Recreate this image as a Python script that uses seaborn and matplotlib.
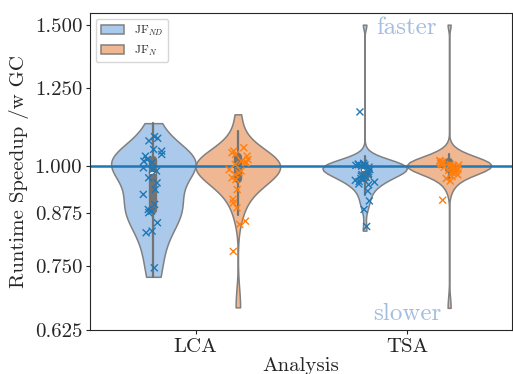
import numpy as np
import pandas as pd
import seaborn as sns
import matplotlib.pyplot as plt
from matplotlib.ticker import FixedLocator, FormatStrFormatter, NullLocator

# categorias e variantes
analyses = ["LCA", "TSA"]
variants = ["JF$_{ND}$", "JF$_{N}$"]
yticks = [0.625, 0.750, 0.875, 1.000, 1.250, 1.500]

# speedup por benchmark (as cruzes)
lca_nd_pts = [1.088, 1.083, 1.075, 1.049, 1.044, 1.034, 1.029, 1.019, 1.014, 1.010,
              0.995, 0.990, 0.986, 0.967, 0.953, 0.935, 0.922, 0.896, 0.883, 0.879,
              0.875, 0.850, 0.830, 0.826, 0.747]
lca_n_pts = [1.054, 1.044, 1.039, 1.034, 1.029, 1.019, 1.014, 1.010, 1.010, 1.005,
             0.990, 0.986, 0.981, 0.976, 0.967, 0.962, 0.935, 0.909, 0.900, 0.887,
             0.854, 0.846, 0.783]
tsa_nd_pts = [1.168, 1.008, 1.006, 1.004, 1.003, 1.002, 1.001, 1.000, 0.997, 0.990,
              0.984, 0.978, 0.976, 0.975, 0.972, 0.968, 0.965, 0.963, 0.960, 0.957,
              0.955, 0.950, 0.948, 0.931, 0.905, 0.883, 0.841]
tsa_n_pts = [1.016, 1.014, 1.012, 1.010, 1.008, 1.006, 1.005, 1.004, 1.003, 1.002,
             1.000, 0.999, 0.997, 0.995, 0.993, 0.990, 0.988, 0.986, 0.983, 0.981,
             0.975, 0.970, 0.965, 0.958, 0.907]

# todas as execucoes (os violinos)
lca_nd_runs = [0.728, 0.760, 0.810, 0.835, 0.855, 0.870, 0.878, 0.885, 0.892, 0.900,
               0.920, 0.945, 0.965, 0.980, 0.990, 0.995, 1.000, 1.005, 1.010, 1.015,
               1.020, 1.028, 1.035, 1.045, 1.060, 1.090, 1.131]
lca_n_runs = [0.667, 0.870, 0.900, 0.925, 0.940, 0.950, 0.955, 0.958, 0.965, 0.970,
              0.975, 0.980, 0.985, 0.990, 0.993, 0.996, 1.000, 1.002, 1.005, 1.008,
              1.012, 1.016, 1.020, 1.025, 1.030, 1.033, 1.040, 1.048, 1.060, 1.080,
              1.105, 1.160]
tsa_nd_runs = [0.831, 0.888, 0.905, 0.920, 0.935, 0.945, 0.950, 0.955, 0.960, 0.963,
               0.966, 0.969, 0.972, 0.975, 0.978, 0.980, 0.982, 0.985, 0.987, 0.989,
               0.991, 0.993, 0.995, 0.996, 0.997, 0.998, 0.999, 1.000, 1.000, 1.001,
               1.002, 1.003, 1.004, 1.006, 1.008, 1.010, 1.014, 1.020, 1.030, 1.500]
tsa_n_runs = [0.666, 0.940, 0.955, 0.965, 0.972, 0.978, 0.982, 0.985, 0.988, 0.990,
              0.992, 0.994, 0.995, 0.996, 0.997, 0.998, 0.999, 1.000, 1.000, 1.000,
              1.001, 1.002, 1.003, 1.004, 1.005, 1.006, 1.007, 1.008, 1.010, 1.012,
              1.014, 1.016, 1.019, 1.022, 1.026, 1.030, 1.036, 1.045, 1.500]


def make_df(groups):
    rows = []
    for (analysis, variant), values in groups.items():
        for v in values:
            rows.append({"analysis": analysis, "variant": variant, "speedup": v})
    return pd.DataFrame(rows)


runs_df = make_df({("LCA", variants[0]): lca_nd_runs, ("LCA", variants[1]): lca_n_runs,
                   ("TSA", variants[0]): tsa_nd_runs, ("TSA", variants[1]): tsa_n_runs})
pts_df = make_df({("LCA", variants[0]): lca_nd_pts, ("LCA", variants[1]): lca_n_pts,
                  ("TSA", variants[0]): tsa_nd_pts, ("TSA", variants[1]): tsa_n_pts})

sns.set_style("white")
plt.rcParams["font.family"] = "serif"
plt.rcParams["font.serif"] = ["cmr10"]
plt.rcParams["mathtext.fontset"] = "cm"
plt.rcParams["axes.formatter.use_mathtext"] = True

np.random.seed(3)
fig = plt.figure(figsize=(5.13, 3.74), dpi=100)
ax = fig.add_axes([0.1754, 0.1176, 0.8236, 0.8476])

# um violino por analise, com largura de banda propria
for analysis, adj in zip(analyses, [0.9, 0.45]):
    sns.violinplot(data=runs_df[runs_df["analysis"] == analysis], x="analysis", y="speedup",
                   hue="variant", order=analyses, hue_order=variants, palette="pastel",
                   cut=0, density_norm="width", inner="box", linewidth=1.1,
                   linecolor="0.5", bw_adjust=adj, legend=(analysis == "LCA"),
                   inner_kws=dict(box_width=6, whis_width=1.6, color="0.45"), ax=ax)

sns.stripplot(data=pts_df, x="analysis", y="speedup", hue="variant", order=analyses,
              hue_order=variants, palette=["tab:blue", "tab:orange"], dodge=True,
              marker="x", size=5, linewidth=1, legend=False, ax=ax)

ax.axhline(1.0, color="tab:blue", lw=1.8, zorder=2.5)

ax.set_yscale("log", base=2)
ax.set_ylim(0.625, 1.551)
ax.yaxis.set_major_locator(FixedLocator(yticks))
ax.yaxis.set_major_formatter(FormatStrFormatter("%.3f"))
ax.yaxis.set_minor_locator(NullLocator())
ax.set_xlim(-0.5, 1.5)
ax.tick_params(axis="both", labelsize=15, length=3, pad=2.5, left=True, bottom=True)
ax.set_xlabel("Analysis", fontsize=15, labelpad=1)
ax.set_ylabel("Runtime Speedup /w GC", fontsize=15, labelpad=4)

ax.text(1.0, 1.485, "faster", ha="center", va="center", fontsize=18, color="#a3bde0")
ax.text(1.0, 0.655, "slower", ha="center", va="center", fontsize=18, color="#a3bde0")

sns.move_legend(ax, "upper left", title=None, fontsize=8.5)

fig.savefig("out.png", dpi=100)
